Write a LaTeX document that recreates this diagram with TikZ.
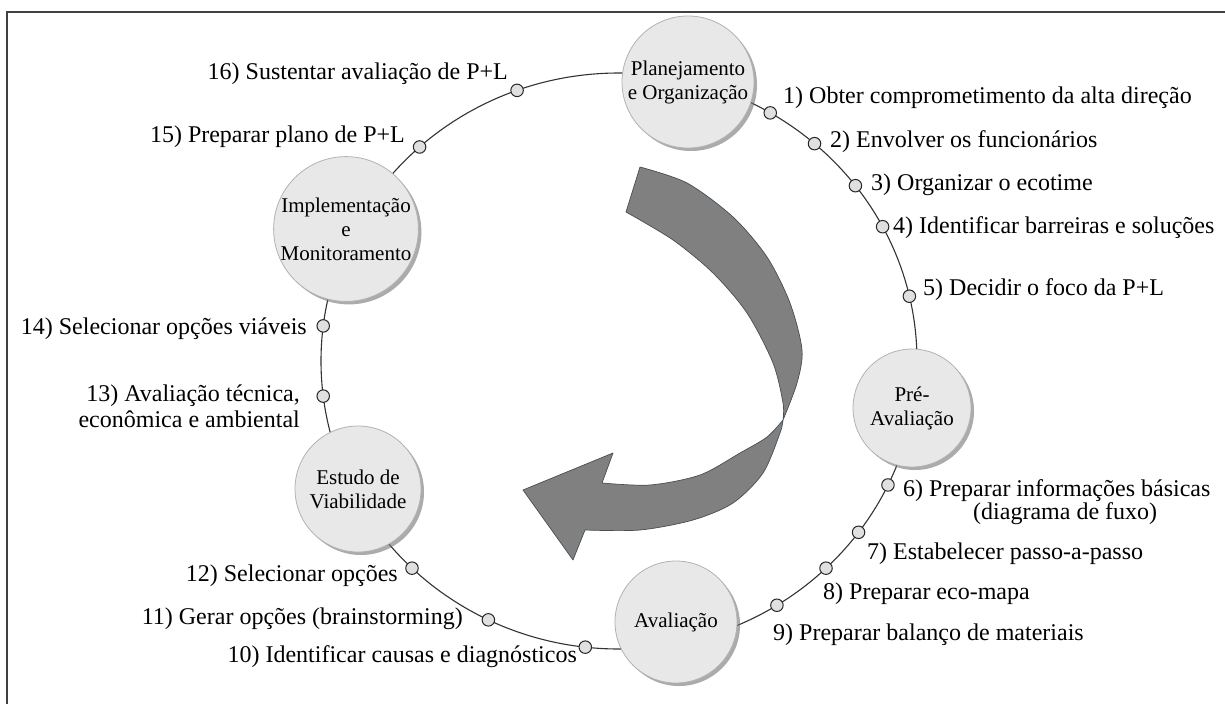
\documentclass[tikz,border=0pt]{standalone}
\usepackage{fontspec}
\setmainfont{Liberation Serif}
\usetikzlibrary{shadows}
\begin{document}
\begin{tikzpicture}[x=1pt,y=-1pt,
  phase/.style={circle, fill=black!9, draw=black!30, line width=0.8pt, inner sep=0pt, align=center,
    font=\fontsize{21}{24}\selectfont,
    drop shadow={shadow xshift=3pt, shadow yshift=-3pt, fill=black!55, opacity=0.6}},
  dot/.style={circle, fill=black!12, draw=black!85, line width=1pt, minimum size=12.5pt, inner sep=0pt},
  lbl/.style={font=\fontsize{24}{26}\selectfont, inner sep=0pt},
  ring/.style={draw=black!80, line width=1.1pt},
  border/.style={draw=black!75, line width=1.5pt},
  bigarrow/.style={fill=black!50, draw=black!75!cyan, line width=0.7pt, line join=round}
]
\useasboundingbox (0,0) rectangle (1225,704);
\draw[border] (7,704) -- (7,12) -- (1225,12);

% ring
\draw[ring] (619,361) ellipse [x radius=298, y radius=288];

% big curved arrow
\draw[bigarrow]
  plot[smooth] coordinates {(640,167) (687,183) (733,217) (767,257) (790,303) (802,350) (797,383) (783,420)}
  -- plot[smooth] coordinates {(783,420) (780,433) (763,473) (733,503) (693,520) (640,530) (585,530)}
  -- (573,560) -- (523,490) -- (613,453) -- (602,483)
  -- plot[smooth] coordinates {(602,483) (650,485) (700,475) (740,453) (767,437) (783,420)}
  -- plot[smooth] coordinates {(783,420) (783,403) (773,363) (747,313) (713,273) (673,240) (626,212)}
  -- cycle;

% small step dots on the ring
\begin{scope}[shift={(619,361)}]
\node[dot] (d1)  at (-59.5:298 and 288) {};
\node[dot] (d2)  at (-49:298 and 288) {};
\node[dot] (d3)  at (-37.5:298 and 288) {};
\node[dot] (d4)  at (-27.8:298 and 288) {};
\node[dot] (d5)  at (-13:298 and 288) {};
\node[dot] (d6)  at (25.5:298 and 288) {};
\node[dot] (d7)  at (36.5:298 and 288) {};
\node[dot] (d8)  at (46:298 and 288) {};
\node[dot] (d9)  at (58:298 and 288) {};
\node[dot] (d10) at (96.5:298 and 288) {};
\node[dot] (d11) at (116:298 and 288) {};
\node[dot] (d12) at (134:298 and 288) {};
\node[dot] (d13) at (173:298 and 288) {};
\node[dot] (d14) at (-173:298 and 288) {};
\node[dot] (d15) at (-132:298 and 288) {};
\node[dot] (d16) at (-110:298 and 288) {};
\end{scope}

% phases
\node[phase, minimum size=132pt] (plan)   at (688,82)  {Planejamento\\e Organização};
\node[phase, minimum size=118pt] (pre)    at (912,408) {Pré-\\Avaliação};
\node[phase, minimum size=122pt] (aval)   at (676,622) {Avaliação};
\node[phase, minimum size=126pt] (estudo) at (358,489) {Estudo de\\Viabilidade};
\node[phase, minimum size=128pt] (impl)   at (346,229) {Implementação\\e\\Monitoramento};

% step labels, right side
\node[lbl, anchor=base west] (l1) at (783,103) {1) Obter comprometimento da alta direção};
\node[lbl, anchor=base west] (l2) at (830,147) {2) Envolver os funcionários};
\node[lbl, anchor=base west] (l3) at (871,190) {3) Organizar o ecotime};
\node[lbl, anchor=base west] (l4) at (893,233) {4) Identificar barreiras e soluções};
\node[lbl, anchor=base west] (l5) at (923,295) {5) Decidir o foco da P+L};
\node[lbl, anchor=north west, align=left, font=\fontsize{24}{21}\selectfont] (l6) at (903,479) {6) Preparar informações básicas\\\hspace*{70pt}(diagrama de fuxo)};
\node[lbl, anchor=base west] (l7) at (867,559) {7) Estabelecer passo-a-passo};
\node[lbl, anchor=base west] (l8) at (823,599) {8) Preparar eco-mapa};
\node[lbl, anchor=base west] (l9) at (773,640) {9) Preparar balanço de materiais};

% step labels, left side
\node[lbl, anchor=base east] (l10) at (577,662) {10) Identificar causas e diagnósticos};
\node[lbl, anchor=base east] (l11) at (463,624) {11) Gerar opções (brainstorming)};
\node[lbl, anchor=base east] (l12) at (398,581) {12) Selecionar opções};
\node[lbl, anchor=north east, align=right, font=\fontsize{24}{26}\selectfont] (l13) at (300,385) {13) Avaliação técnica,\\econômica e ambiental};
\node[lbl, anchor=base east] (l14) at (307,334) {14) Selecionar opções viáveis};
\node[lbl, anchor=base east] (l15) at (405,142) {15) Preparar plano de P+L};
\node[lbl, anchor=base east] (l16) at (508,79)  {16) Sustentar avaliação de P+L};
\end{tikzpicture}
\end{document}
